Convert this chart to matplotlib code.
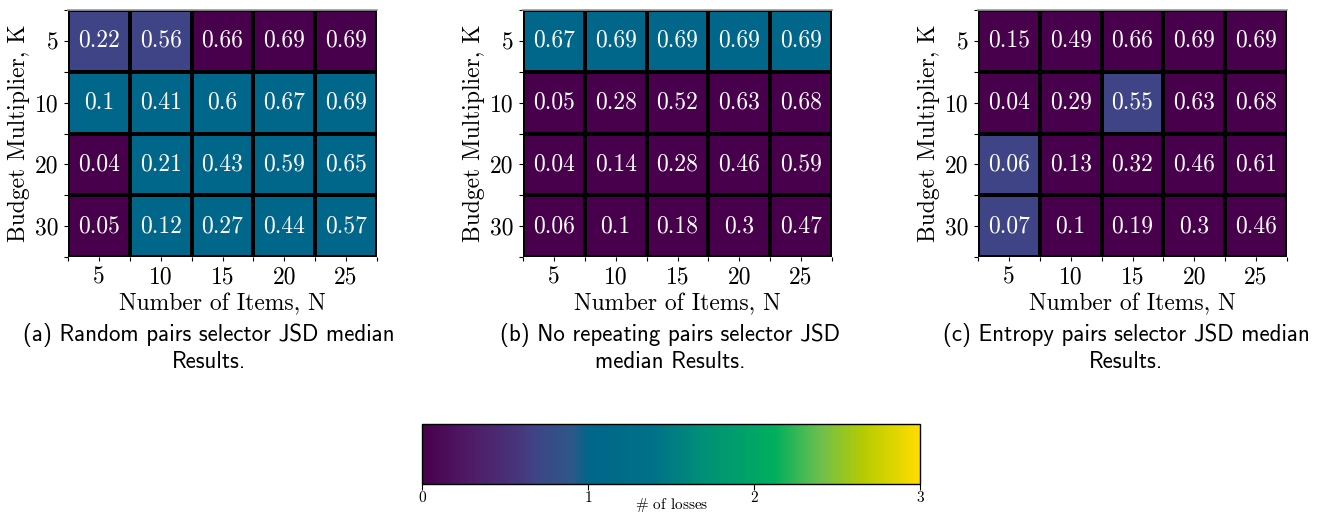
import numpy as np
import matplotlib
matplotlib.use('Agg')
import matplotlib.pyplot as plt
from matplotlib.colors import LinearSegmentedColormap, Normalize

plt.rcParams['font.family'] = 'serif'
plt.rcParams['font.serif'] = ['cmr10']
plt.rcParams['mathtext.fontset'] = 'cm'
plt.rcParams['axes.unicode_minus'] = False

items = [5, 10, 15, 20, 25]
budgets = [5, 10, 20, 30]

jsd_random = [[0.22, 0.56, 0.66, 0.69, 0.69],
              [0.1, 0.41, 0.6, 0.67, 0.69],
              [0.04, 0.21, 0.43, 0.59, 0.65],
              [0.05, 0.12, 0.27, 0.44, 0.57]]
jsd_norepeat = [[0.67, 0.69, 0.69, 0.69, 0.69],
                [0.05, 0.28, 0.52, 0.63, 0.68],
                [0.04, 0.14, 0.28, 0.46, 0.59],
                [0.06, 0.1, 0.18, 0.3, 0.47]]
jsd_entropy = [[0.15, 0.49, 0.66, 0.69, 0.69],
               [0.04, 0.29, 0.55, 0.63, 0.68],
               [0.06, 0.13, 0.32, 0.46, 0.61],
               [0.07, 0.1, 0.19, 0.3, 0.46]]

losses_random = [[0.67, 0.67, 0, 0, 0],
                 [1, 1, 1, 1, 1],
                 [0, 1, 1, 1, 1],
                 [0, 1, 1, 1, 1]]
losses_norepeat = [[1, 1, 1, 1, 1],
                   [0, 0, 0, 0, 0],
                   [0, 0, 0, 0, 0],
                   [0, 0, 0, 0, 0]]
losses_entropy = [[0, 0, 0, 0, 0],
                  [0, 0, 0.67, 0, 0],
                  [0.67, 0, 0, 0, 0],
                  [0.67, 0, 0, 0, 0]]

captions = ['(a) Random pairs selector JSD median\nResults.',
            '(b) No repeating pairs selector JSD\nmedian Results.',
            '(c) Entropy pairs selector JSD median\nResults.']

# colormap
cmap = LinearSegmentedColormap.from_list('losses', [
    (0.0, '#48004c'),
    (0.10, '#4f1c68'),
    (0.20, '#45387c'),
    (0.223, '#3e4486'),
    (0.30, '#2f5689'),
    (0.333, '#00668a'),
    (0.46, '#007088'),
    (0.56, '#008e78'),
    (0.71, '#00af5e'),
    (0.80, '#6cbf4c'),
    (0.89, '#b6cc00'),
    (1.0, '#ffdd00'),
])
norm = Normalize(vmin=0, vmax=3)

fig = plt.figure(figsize=(13.2, 5.12), dpi=100)
W, H = 1320, 512
lefts = [68, 523, 978]

panels = [(jsd_random, losses_random), (jsd_norepeat, losses_norepeat), (jsd_entropy, losses_entropy)]
cap_x = [209, 670, 1126]

for i, (jsd, losses) in enumerate(panels):
    ax = fig.add_axes([lefts[i] / W, 1 - 257 / H, 309 / W, 247 / H])
    vals = np.array(losses, dtype=float)
    ax.pcolormesh(np.arange(len(items) + 1), np.arange(len(budgets) + 1), vals,
                  cmap=cmap, norm=norm, edgecolors='black', linewidth=2.6)
    ax.set_xlim(0, len(items))
    ax.set_ylim(len(budgets), 0)
    for r in range(len(budgets)):
        for c in range(len(items)):
            ax.text(c + 0.5, r + 0.5, str(jsd[r][c]), ha='center', va='center',
                    color='white', fontsize=17)
    ax.set_xticks(np.arange(len(items)) + 0.5)
    ax.set_xticklabels(items, fontsize=17)
    ax.set_yticks(np.arange(len(budgets)) + 0.5)
    ax.set_yticklabels(budgets, fontsize=17)
    ax.set_xticks(np.arange(len(items) + 1), minor=True)
    ax.set_yticks(np.arange(len(budgets) + 1), minor=True)
    ax.tick_params(which='both', length=3, width=0.8, pad=4)
    for s in ['left', 'right', 'bottom']:
        ax.spines[s].set_visible(False)
    ax.spines['top'].set_color('#999999')
    ax.spines['top'].set_linewidth(1.2)
    ax.set_xlabel('Number of Items, N', fontsize=17, labelpad=3)
    ax.set_ylabel('Budget Multiplier, K', fontsize=17, labelpad=3)
    fig.text(cap_x[i] / W, 1 - 348 / H, captions[i], ha='center', va='center',
             fontsize=16.5, family='cmss10', linespacing=1.2)

cax = fig.add_axes([422 / W, 1 - 484 / H, 498 / W, 60 / H])
sm = plt.cm.ScalarMappable(cmap=cmap, norm=norm)
cb = fig.colorbar(sm, cax=cax, orientation='horizontal')
cb.set_ticks([0, 1, 2, 3])
cb.ax.tick_params(labelsize=11, length=4, width=0.8, pad=1)
cb.outline.set_linewidth(1.0)
fig.text(672 / W, 1 - 505 / H, r'$\#$ of losses', ha='center', va='center', fontsize=11)

fig.savefig('out.png', dpi=100)
